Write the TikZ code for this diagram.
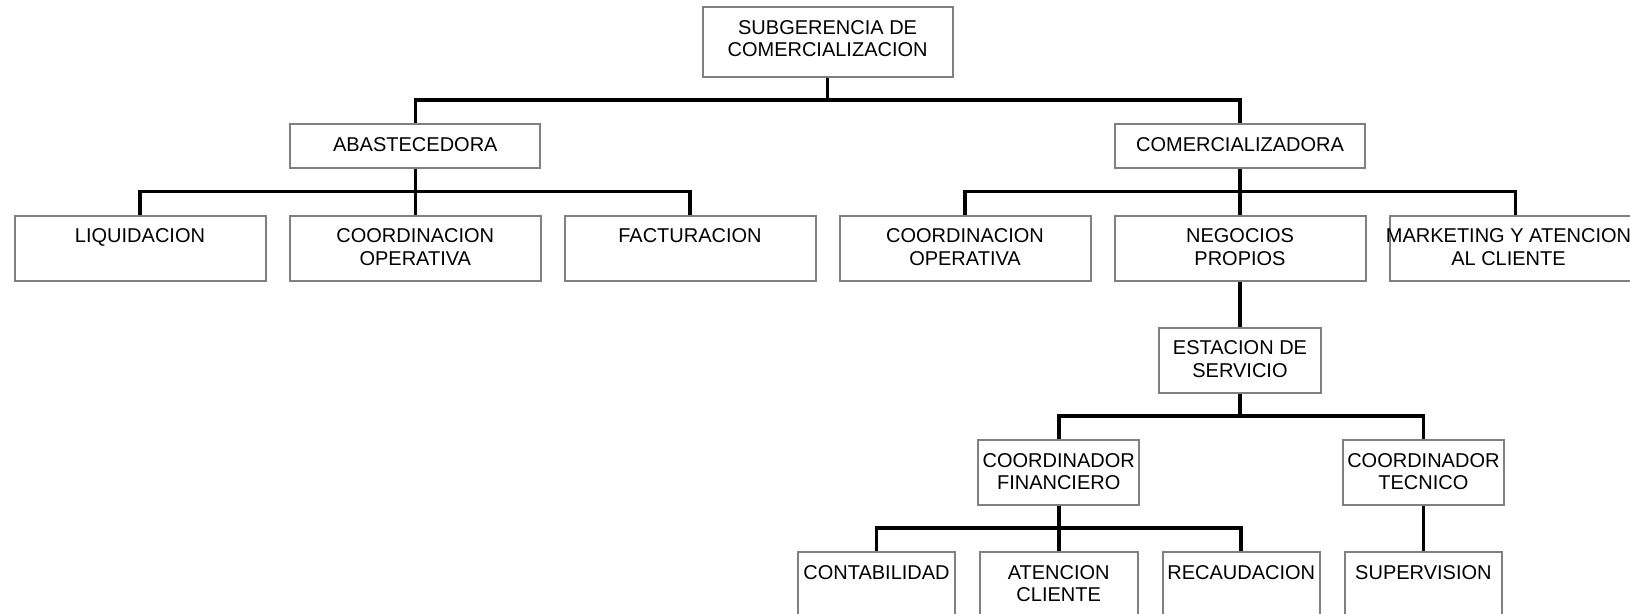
\documentclass[tikz,border=0pt]{standalone}
\usepackage{fontspec}
\setmainfont{Liberation Sans}
\begin{document}
\begin{tikzpicture}[x=0.5pt, y=-0.5pt,
  unit/.style={draw=black!50, line width=1pt, fill=white, inner sep=0pt,
    minimum height=32.5pt},
  flat/.style={unit, minimum height=22pt},
  big/.style={unit, minimum height=34.7pt},
  caption/.style={label={[anchor=north, yshift=-6.9pt, inner sep=0pt,
    align=center, font=\fontsize{10}{11.2}\selectfont]north:#1}},
  link/.style={line width=1.8pt, line join=miter}]
\useasboundingbox (0,0) rectangle (1630,614);
\clip (0,0) rectangle (1630,614);

% top level
\node[big, minimum width=125pt, caption={SUBGERENCIA DE\\COMERCIALIZACION}] (sub) at (827.6,42) {};

% second level
\node[flat, minimum width=125pt, caption=ABASTECEDORA] (aba) at (415.3,146) {};
\node[flat, minimum width=125pt, caption=COMERCIALIZADORA] (com) at (1240,146) {};

% third level
\node[unit, minimum width=125.5pt, caption=LIQUIDACION] (liq) at (140,248.2) {};
\node[unit, minimum width=125.5pt, caption={COORDINACION\\OPERATIVA}] (coa) at (415.3,248.2) {};
\node[unit, minimum width=125.5pt, caption=FACTURACION] (fac) at (690,248.2) {};
\node[unit, minimum width=125.5pt, caption={COORDINACION\\OPERATIVA}] (cob) at (965,248.2) {};
\node[unit, minimum width=125.5pt, caption={NEGOCIOS\\PROPIOS}] (neg) at (1240,248.2) {};
\node[unit, minimum width=125.5pt,
  label={[anchor=north, yshift=-6.9pt, xshift=-3.5pt, inner sep=0pt, align=center,
    font=\fontsize{10}{11.2}\selectfont]north:{MARKETING Y ATENCION\\AL CLIENTE}}] (mkt) at (1515.5,248.2) {};

% service station branch
\node[unit, minimum width=81pt, caption={ESTACION DE\\SERVICIO}] (est) at (1240,360.2) {};
\node[unit, minimum width=80.7pt, caption={COORDINADOR\\FINANCIERO}] (fin) at (1058.7,472.5) {};
\node[unit, minimum width=80.7pt, caption={COORDINADOR\\TECNICO}] (tec) at (1423.4,472.5) {};

\node[unit, minimum width=78.6pt, caption=CONTABILIDAD] (cnt) at (876.5,584.8) {};
\node[unit, minimum width=78.8pt, caption={ATENCION\\CLIENTE}] (ate) at (1058.7,584.8) {};
\node[unit, minimum width=78.6pt, caption=RECAUDACION] (rec) at (1241.2,584.8) {};
\node[unit, minimum width=78.8pt, caption=SUPERVISION] (sup) at (1423.4,584.8) {};

% connectors
\coordinate (b1) at (0,100);
\coordinate (b2) at (0,191.7);
\coordinate (b3) at (0,416);
\coordinate (b4) at (0,528.3);

\draw[link] (sub.south) -- (sub.south |- b1);
\draw[link] (aba.north) -- (aba.north |- b1) -| (com.north);

\draw[link] (aba.south) -- (coa.north);
\draw[link] (liq.north) -- (liq.north |- b2) -| (fac.north);

\draw[link] (com.south) -- (neg.north);
\draw[link] (cob.north) -- (cob.north |- b2) -| (mkt.north);

\draw[link] (neg.south) -- (est.north);

\draw[link] (est.south) -- (est.south |- b3);
\draw[link] (fin.north) -- (fin.north |- b3) -| (tec.north);

\draw[link] (fin.south) -- (ate.north);
\draw[link] (cnt.north) -- (cnt.north |- b4) -| (rec.north);

\draw[link] (tec.south) -- (sup.north);
\end{tikzpicture}
\end{document}
